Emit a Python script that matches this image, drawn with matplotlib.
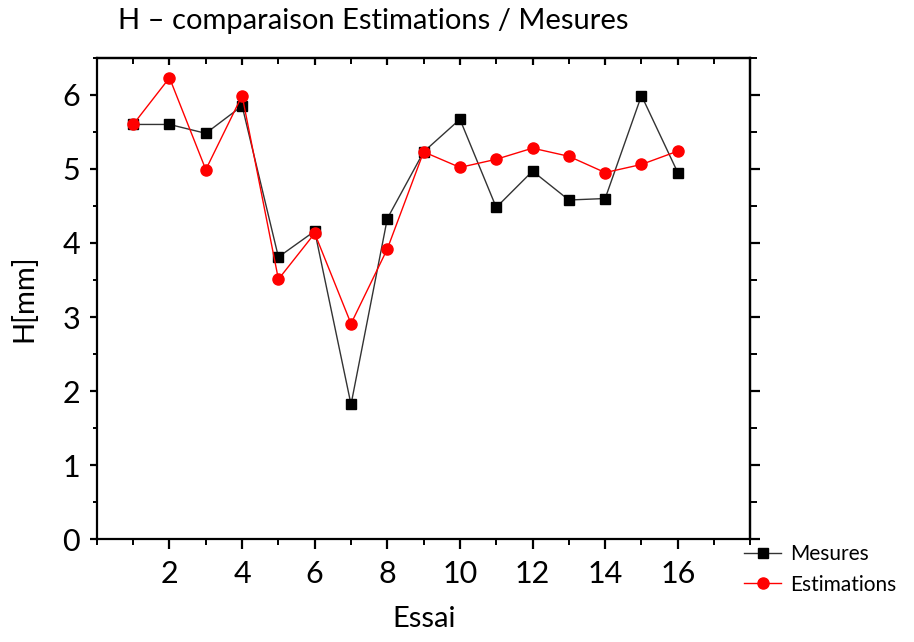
import matplotlib

matplotlib.use("Agg")
import matplotlib.pyplot as plt
from matplotlib.ticker import MultipleLocator

essai = [1, 2, 3, 4, 5, 6, 7, 8, 9, 10, 11, 12, 13, 14, 15, 16]
mesures = [5.60, 5.60, 5.48, 5.85, 3.81, 4.16, 1.82, 4.33,
           5.23, 5.67, 4.48, 4.97, 4.58, 4.60, 5.99, 4.95]
estimations = [5.60, 6.23, 4.99, 5.99, 3.51, 4.13, 2.91, 3.92,
               5.23, 5.02, 5.13, 5.28, 5.17, 4.95, 5.06, 5.24]
x_ticks = [2, 4, 6, 8, 10, 12, 14, 16]
y_ticks = [0, 1, 2, 3, 4, 5, 6]

plt.rcParams["font.family"] = ["Lato", "DejaVu Sans"]

fig = plt.figure(figsize=(9.14, 6.42), dpi=100)
ax = fig.add_axes([0.106, 0.160, 0.715, 0.750])

ax.plot(essai, mesures, color="#333333", linewidth=1.0, marker="s",
        markersize=7.5, markerfacecolor="black", markeredgecolor="black",
        label="Mesures", zorder=3)
ax.plot(essai, estimations, color="red", linewidth=1.0, marker="o",
        markersize=8, markerfacecolor="red", markeredgecolor="red",
        label="Estimations", zorder=4)

ax.set_xlim(0, 18)
ax.set_ylim(0, 6.5)
ax.set_xticks(x_ticks)
ax.set_yticks(y_ticks)
ax.xaxis.set_minor_locator(MultipleLocator(1))
ax.yaxis.set_minor_locator(MultipleLocator(0.5))

for side in ax.spines.values():
    side.set_linewidth(1.6)

ax.tick_params(axis="both", which="major", direction="out", length=6, width=1.6,
               labelsize=22)
ax.tick_params(axis="both", which="minor", direction="out", length=4, width=1.4)
ax.tick_params(axis="x", which="major", length=7, pad=8)
ax.tick_params(axis="y", which="major", length=5, pad=7)
ax.tick_params(axis="y", which="minor", length=3)

# mirrored ticks: top inward, right outward, no labels
top = ax.secondary_xaxis("top")
top.set_xticks(x_ticks)
top.xaxis.set_minor_locator(MultipleLocator(1))
top.tick_params(which="major", direction="in", length=5, width=1.6, labeltop=False)
top.tick_params(which="minor", direction="in", length=4, width=1.4)
top.spines["top"].set_linewidth(1.6)

right = ax.secondary_yaxis("right")
right.set_yticks(y_ticks)
right.yaxis.set_minor_locator(MultipleLocator(0.5))
right.tick_params(which="major", direction="out", length=7, width=1.6, labelright=False)
right.tick_params(which="minor", direction="out", length=5, width=1.4)
right.spines["right"].set_linewidth(1.6)

ax.set_xlabel("Essai", fontsize=21, labelpad=13)
ax.set_ylabel("H[mm]", fontsize=21, labelpad=18)

fig.text(0.129, 0.968, "H \u2013 comparaison Estimations / Mesures",
         fontsize=21, ha="left", va="center")

ax.legend(loc="upper left", bbox_to_anchor=(0.99, -0.01), frameon=False,
          fontsize=15, handlelength=1.8, handletextpad=0.4, labelspacing=0.5,
          borderaxespad=0, borderpad=0)

fig.savefig("out.png", dpi=100)
